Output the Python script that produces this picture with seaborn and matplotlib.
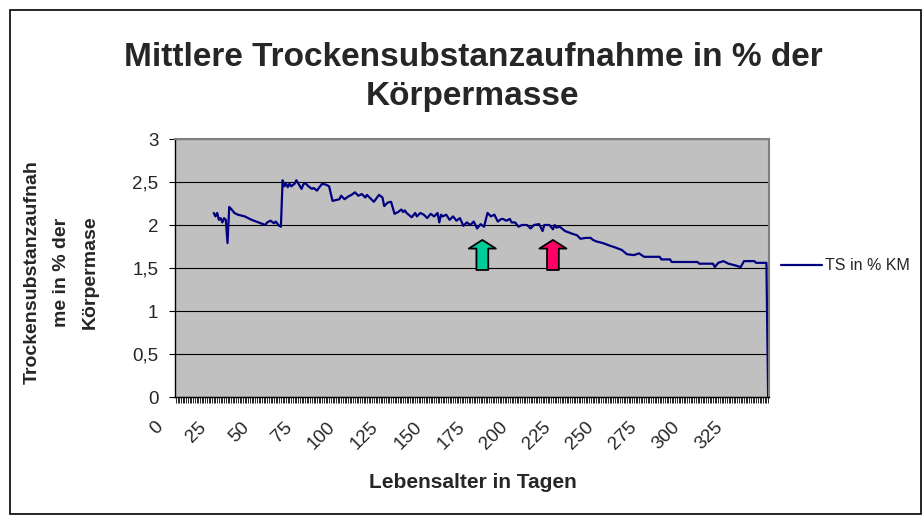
import matplotlib
matplotlib.use("Agg")
import matplotlib.pyplot as plt
import matplotlib.transforms as mtransforms
from matplotlib.patches import Rectangle
from matplotlib.ticker import MultipleLocator
import numpy as np
import pandas as pd
import seaborn as sns

# ---------------- data ----------------
days = [22, 23, 24, 25, 26, 27, 28, 29, 30, 31, 32, 34, 36, 40, 44, 48, 52, 53, 55, 57,
        58, 60, 61, 62, 63, 64, 65, 66, 67, 69, 70, 73, 74, 75, 77, 79, 80, 82, 83, 85,
        87, 89, 91, 93, 95, 96, 98, 100, 102, 104, 106, 108, 110, 111, 113, 115, 118, 120, 121, 123,
        125, 127, 129, 131, 132, 133, 134, 137, 139, 140, 142, 144, 146, 148, 150, 152, 153, 154, 155, 157,
        159, 161, 163, 165, 167, 169, 171, 173, 175, 177, 179, 181, 183, 185, 187, 189, 190, 192, 194, 195,
        197, 199, 201, 204, 206, 208, 211, 213, 214, 217, 219, 220, 221, 223, 226, 230, 233, 235, 238, 241,
        242, 244, 248, 252, 255, 259, 262, 266, 269, 272, 281, 282, 287, 288, 303, 304, 312, 313, 315, 318,
        321, 325, 328, 330, 336, 337, 343, 344]
ts_values = [2.14, 2.10, 2.14, 2.06, 2.08, 2.03, 2.08, 2.06, 1.79, 2.21, 2.19, 2.14, 2.12, 2.10, 2.06, 2.03, 2.00, 2.03, 2.05, 2.02,
             2.04, 1.99, 1.98, 2.52, 2.45, 2.48, 2.44, 2.48, 2.45, 2.48, 2.52, 2.42, 2.47, 2.49, 2.45, 2.42, 2.43, 2.40, 2.43, 2.48,
             2.47, 2.45, 2.28, 2.29, 2.30, 2.34, 2.30, 2.33, 2.35, 2.38, 2.34, 2.36, 2.32, 2.35, 2.31, 2.27, 2.35, 2.32, 2.22, 2.26,
             2.27, 2.13, 2.15, 2.18, 2.15, 2.17, 2.14, 2.09, 2.14, 2.10, 2.14, 2.12, 2.08, 2.13, 2.10, 2.14, 2.03, 2.12, 2.10, 2.12,
             2.06, 2.10, 2.05, 2.08, 1.99, 2.03, 2.00, 2.04, 1.96, 2.01, 1.98, 2.14, 2.10, 2.12, 2.04, 2.07, 2.07, 2.05, 2.07, 2.03,
             2.03, 1.98, 2.00, 2.00, 1.96, 2.00, 2.01, 1.93, 2.00, 2.00, 1.95, 2.00, 1.97, 1.98, 1.93, 1.90, 1.88, 1.84, 1.85, 1.85,
             1.83, 1.81, 1.79, 1.76, 1.74, 1.71, 1.66, 1.65, 1.67, 1.63, 1.63, 1.60, 1.60, 1.57, 1.57, 1.55, 1.55, 1.51, 1.56, 1.58,
             1.55, 1.53, 1.51, 1.58, 1.58, 1.56, 1.56, 0.0]
series_name = "TS in % KM"
x_ticks = [0, 25, 50, 75, 100, 125, 150, 175, 200, 225, 250, 275, 300, 325]
y_ticks = [0, 0.5, 1, 1.5, 2, 2.5, 3]
y_tick_labels = ["0", "0,5", "1", "1,5", "2", "2,5", "3"]
arrow_days = [178, 219]
arrow_colors = ["#00CC99", "#FF0066"]
arrow_base, arrow_tip = 1.477, 1.826

title_lines = ["Mittlere Trockensubstanzaufnahme in % der", "Körpermasse"]
ylabel_lines = ["Trockensubstanzaufnah", "me in % der", "Körpermase"]
xlabel = "Lebensalter in Tagen"

# ---------------- style ----------------
sns.set_theme(style="white")
plt.rcParams["font.family"] = ["Liberation Sans", "DejaVu Sans"]

W, H = 924, 516
fig = plt.figure(figsize=(W / 100, H / 100), dpi=100)
fig.patch.set_facecolor("white")

ax_l, ax_r, ax_t, ax_b = 175, 769, 139, 397
ax = fig.add_axes([ax_l / W, 1 - ax_b / H, (ax_r - ax_l) / W, (ax_b - ax_t) / H])
ax.set_facecolor("#C0C0C0")

df = pd.DataFrame({"Tag": days, "TS": ts_values})
sns.lineplot(data=df, x="Tag", y="TS", ax=ax, color="#000080", linewidth=1.6,
             label=series_name, estimator=None, sort=False)
handles, labels = ax.get_legend_handles_labels()
if ax.get_legend() is not None:
    ax.get_legend().remove()

ax.set_xlim(-0.5, 344.5)
ax.set_ylim(0, 3)
ax.set_xlabel("")
ax.set_ylabel("")

# grid
ax.set_axisbelow(True)
ax.set_yticks(y_ticks)
ax.set_yticklabels(y_tick_labels)
ax.yaxis.grid(True, color="black", linewidth=0.8)
ax.xaxis.grid(False)

# spines
for s in ["left", "bottom"]:
    ax.spines[s].set_color("black")
    ax.spines[s].set_linewidth(1.0)
for s in ["top", "right"]:
    ax.spines[s].set_color("#808080")
    ax.spines[s].set_linewidth(1.5)
    ax.spines[s].set_visible(True)

# ticks
ax.set_xticks(x_ticks)
ax.set_xticklabels([str(t) for t in x_ticks])
ax.xaxis.set_minor_locator(MultipleLocator(1))
ax.tick_params(axis="x", which="both", bottom=True, direction="out", length=4.5,
               width=0.6, color="black", labelsize=13.5, pad=11)
ax.tick_params(axis="y", which="major", left=True, direction="out", length=4,
               width=0.8, color="black", labelsize=13.5, pad=8)
offset = mtransforms.ScaledTranslation(-21 / 100, 0, fig.dpi_scale_trans)
for lbl in ax.get_xticklabels():
    lbl.set_rotation(45)
    lbl.set_ha("right")
    lbl.set_va("top")
    lbl.set_rotation_mode("anchor")
    lbl.set_transform(lbl.get_transform() + offset)

# arrows
for d, c in zip(arrow_days, arrow_colors):
    ax.annotate("", xy=(d, arrow_tip), xytext=(d, arrow_base),
                arrowprops=dict(arrowstyle="simple,head_length=0.62,head_width=1.95,tail_width=0.85",
                                fc=c, ec="black", lw=1.3, shrinkA=0, shrinkB=0,
                                mutation_scale=10))

# legend
leg = fig.legend(handles, labels, loc="center left",
                 bbox_to_anchor=(781 / W, 1 - 266 / H), frameon=False,
                 fontsize=11.5, handlelength=2.55, handletextpad=0.2,
                 borderpad=0, borderaxespad=0)

# texts
fig.text(473 / W, 1 - 58 / H, title_lines[0], ha="center", va="center",
         fontsize=24, fontweight="bold")
fig.text(473 / W, 1 - 97 / H, title_lines[1], ha="center", va="center",
         fontsize=24, fontweight="bold")
for xpix, line in zip([32, 61, 90], ylabel_lines):
    fig.text(xpix / W, 1 - 272 / H, line, rotation=90, ha="center", va="center",
             fontsize=14, fontweight="bold")
fig.text(473 / W, 1 - 482 / H, xlabel, ha="center", va="center",
         fontsize=15, fontweight="bold")

# outer chart border
fig.patches.append(Rectangle((10 / W, 1 - 514 / H), (921 - 10) / W, (514 - 10) / H,
                             transform=fig.transFigure, fill=False, ec="black", lw=1.2))

fig.savefig("out.png", dpi=100, facecolor="white")
